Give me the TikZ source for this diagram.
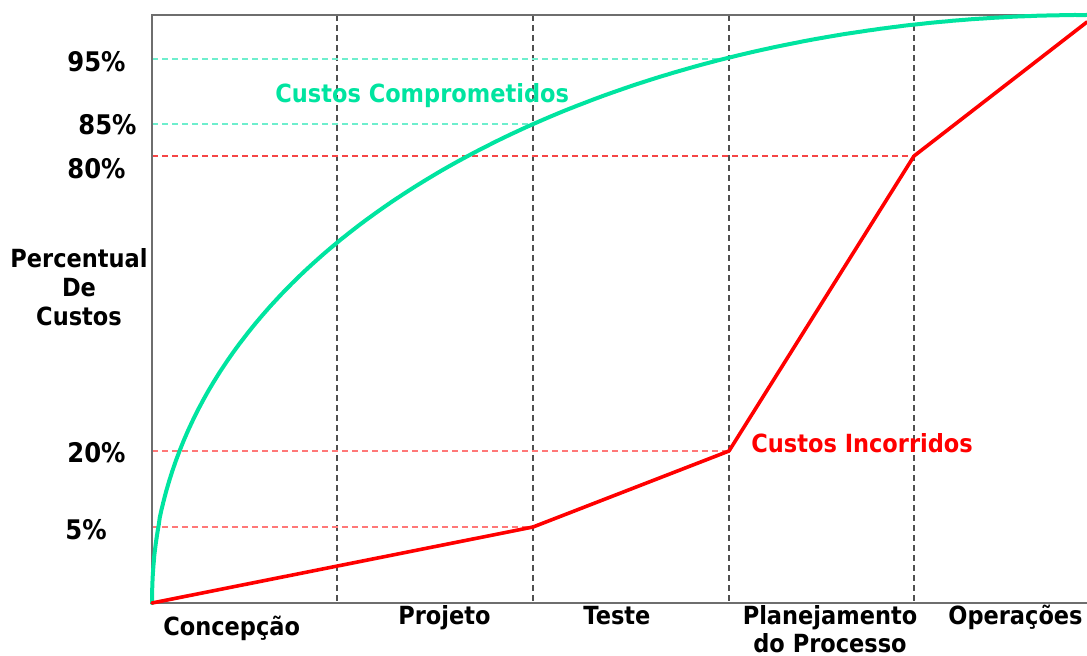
\documentclass[tikz,border=0pt]{standalone}
\usepackage{fontspec}
\newfontfamily\lab{DejaVu Sans}[FakeStretch=0.9]
\definecolor{cgreen}{RGB}{0,228,160}
\definecolor{cmint}{RGB}{110,238,205}
\definecolor{cred}{RGB}{255,0,0}
\definecolor{clred}{RGB}{255,120,120}
\definecolor{cred80}{RGB}{245,70,70}
\definecolor{cgrid}{RGB}{80,80,80}
\definecolor{caxis}{RGB}{110,110,110}
\tikzset{
  axisline/.style={draw=caxis, line width=1pt},
  vgrid/.style={draw=cgrid, line width=0.7pt, dash pattern=on 3pt off 2pt},
  hmint/.style={draw=cmint, line width=0.7pt, dash pattern=on 3pt off 2pt},
  hred/.style={draw=cred80, line width=0.6pt, dash pattern=on 3pt off 2pt},
  hlred/.style={draw=clred, line width=0.8pt, dash pattern=on 3pt off 2pt},
  gcurve/.style={draw=cgreen, line width=2pt, line cap=round, line join=round},
  rcurve/.style={draw=cred, line width=1.8pt, line join=round, line cap=round},
  pct/.style={font=\lab\bfseries\fontsize{13.5}{15}\selectfont, inner sep=0pt, anchor=base west},
  lbl/.style={font=\lab\bfseries\fontsize{12.5}{14}\selectfont, inner sep=0pt, anchor=base west},
}
\begin{document}
\begin{tikzpicture}[x=0.5pt,y=-0.5pt]
\useasboundingbox (0,0) rectangle (1087,655);
% frame coordinates
\coordinate (tl) at (152,15);
\coordinate (bl) at (152,603);
\coordinate (tr) at (1087,15);
\coordinate (br) at (1087,603);
% vertical grid
\foreach \n/\x in {a/337,b/533,c/729,d/914}{
  \coordinate (v\n t) at (\x,15);
  \coordinate (v\n b) at (\x,603);
  \draw[vgrid] (v\n t) -- (v\n b);
}
% horizontal dashed guides
\coordinate (h95a) at (152,59);  \coordinate (h95b) at (729,59);
\coordinate (h85a) at (152,124); \coordinate (h85b) at (533,124);
\coordinate (h80a) at (152,156); \coordinate (h80b) at (914,156);
\coordinate (h20a) at (152,451); \coordinate (h20b) at (729,451);
\coordinate (h05a) at (152,527); \coordinate (h05b) at (533,527);
\draw[hmint] (h95a) -- (h95b);
\draw[hmint] (h85a) -- (h85b);
\draw[hred] (h80a) -- (h80b);
\draw[hlred] (h20a) -- (h20b);
\draw[hlred] (h05a) -- (h05b);
% axes
\draw[axisline] (tr) -- (tl) -- (bl) -- (br);
% committed costs curve
\coordinate (g0) at (152,603);
\draw[gcurve] (g0) -- plot[domain=0.2:90, samples=240, variable=\t] ({1087-935*cos(\t)}, {603-588*pow(sin(\t),0.95)});
% incurred costs
\coordinate (r0) at (152,603);
\coordinate (r1) at (533,527);
\coordinate (r2) at (729,451);
\coordinate (r3) at (914,156);
\coordinate (r4) at (1087,22);
\draw[rcurve] (r0) -- (r1) -- (r2) -- (r3) -- (r4);
% percent labels
\node[pct] (p95) at (67,71) {95\%};
\node[pct] (p85) at (78,134) {85\%};
\node[pct] (p80) at (67,178) {80\%};
\node[pct] (p20) at (67,462) {20\%};
\node[pct] (p05) at (65,539) {5\%};
% y axis title
\node[font=\lab\bfseries\fontsize{12.5}{14.5}\selectfont, inner sep=0pt, align=center, anchor=north] (ytitle) at (79,248) {Percentual\\De\\Custos};
% curve labels
\node[lbl, text=cgreen] (lgreen) at (275,102) {Custos Comprometidos};
\node[lbl, text=cred] (lred) at (751,452) {Custos Incorridos};
% phase labels
\node[lbl] (ph1) at (163,635) {Concepção};
\node[lbl] (ph2) at (398,624) {Projeto};
\node[lbl] (ph3) at (583,624) {Teste};
\node[font=\lab\bfseries\fontsize{12.5}{14}\selectfont, inner sep=0pt, align=center, anchor=north] (ph4) at (830,605) {Planejamento\\do Processo};
\node[lbl] (ph5) at (948,624) {Operações};
\end{tikzpicture}
\end{document}
